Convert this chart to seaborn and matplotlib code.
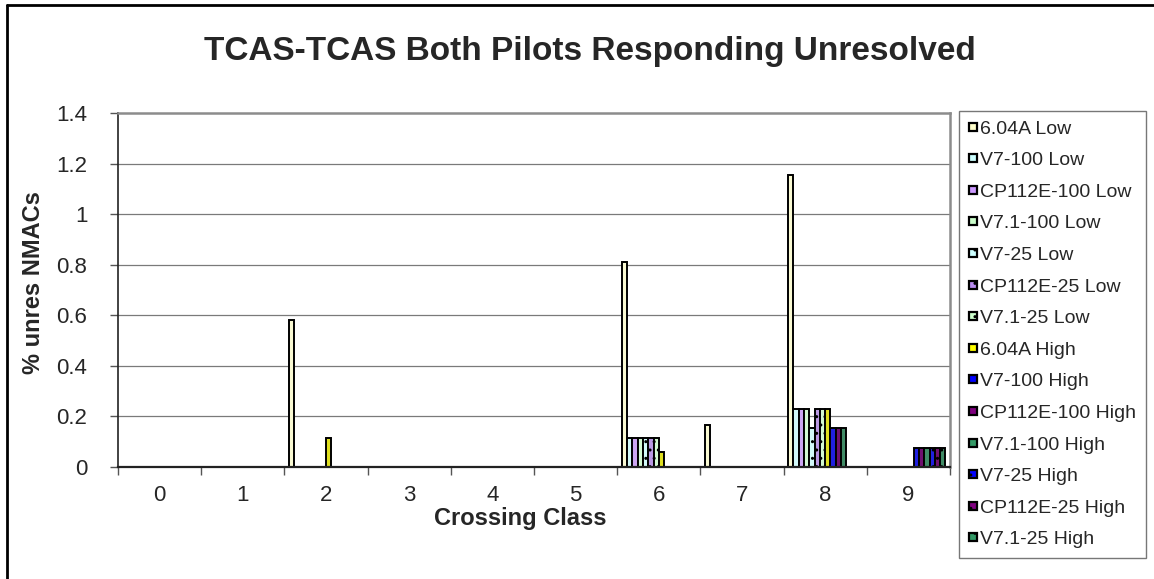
import matplotlib
matplotlib.use("Agg")
import matplotlib.pyplot as plt
import numpy as np
import pandas as pd
import seaborn as sns
from matplotlib.patches import Patch
from matplotlib.lines import Line2D


CLASSES = ["0", "1", "2", "3", "4", "5", "6", "7", "8", "9"]
SERIES = [
    "6.04A Low", "V7-100 Low", "CP112E-100 Low", "V7.1-100 Low",
    "V7-25 Low", "CP112E-25 Low", "V7.1-25 Low", "6.04A High",
    "V7-100 High", "CP112E-100 High", "V7.1-100 High",
    "V7-25 High", "CP112E-25 High", "V7.1-25 High",
]

# % unresolved NMACs per crossing class 0..9
low_604a = [0, 0, 0.58, 0, 0, 0, 0.81, 0.165, 1.155, 0]
low_v7_100 = [0, 0, 0, 0, 0, 0, 0.115, 0, 0.23, 0]
low_cp_100 = [0, 0, 0, 0, 0, 0, 0.115, 0, 0.23, 0]
low_v71_100 = [0, 0, 0, 0, 0, 0, 0.115, 0, 0.23, 0]
low_v7_25 = [0, 0, 0, 0, 0, 0, 0.115, 0, 0.155, 0]
low_cp_25 = [0, 0, 0, 0, 0, 0, 0.115, 0, 0.23, 0]
low_v71_25 = [0, 0, 0, 0, 0, 0, 0.115, 0, 0.23, 0]
high_604a = [0, 0, 0.115, 0, 0, 0, 0.058, 0, 0.23, 0]
high_v7_100 = [0, 0, 0, 0, 0, 0, 0, 0, 0.155, 0.077]
high_cp_100 = [0, 0, 0, 0, 0, 0, 0, 0, 0.155, 0.077]
high_v71_100 = [0, 0, 0, 0, 0, 0, 0, 0, 0.155, 0.077]
high_v7_25 = [0, 0, 0, 0, 0, 0, 0, 0, 0, 0.077]
high_cp_25 = [0, 0, 0, 0, 0, 0, 0, 0, 0, 0.077]
high_v71_25 = [0, 0, 0, 0, 0, 0, 0, 0, 0, 0.077]

VALUES = [
    low_604a, low_v7_100, low_cp_100, low_v71_100, low_v7_25, low_cp_25,
    low_v71_25, high_604a, high_v7_100, high_cp_100, high_v71_100,
    high_v7_25, high_cp_25, high_v71_25,
]

COLORS = [
    "#FFFFCC", "#CCFFFF", "#CC99FF", "#CCFFCC", "#CCFFFF", "#B98CF0",
    "#CCFFCC", "#FFFF00", "#0000FF", "#800080", "#339966",
    "#0000FF", "#800080", "#339966",
]
HATCHES = ["", "", "", "", "..", "..", "..", "", "", "", "", "..", "..", ".."]

Y_TICKS = [0, 0.2, 0.4, 0.6, 0.8, 1.0, 1.2, 1.4]

W, H = 1154, 579
BAR_GROUP = 0.89


def px_x(x):
    return x / W


def px_y(y):
    return 1 - y / H


def build_frame():
    rows = []
    for name, vals in zip(SERIES, VALUES):
        for cls, v in zip(CLASSES, vals):
            rows.append({"cls": cls, "series": name, "value": v})
    return pd.DataFrame(rows)


sns.set_style("white")
plt.rcParams["font.family"] = ["Liberation Sans", "DejaVu Sans"]
plt.rcParams["hatch.linewidth"] = 1.0

fig = plt.figure(figsize=(W / 100, H / 100), dpi=100)
ax = fig.add_axes([px_x(118), px_y(467), px_x(950 - 118), (467 - 113) / H])

df = build_frame()
sns.barplot(
    data=df, x="cls", y="value", hue="series", order=CLASSES,
    hue_order=SERIES, palette=dict(zip(SERIES, COLORS)), width=BAR_GROUP,
    gap=0, errorbar=None, edgecolor="black", linewidth=1.4, legend=False,
    ax=ax, zorder=3,
)

# hatch patterned series, hide empty bars
bw = BAR_GROUP / len(SERIES)
for p in ax.patches:
    cx = p.get_x() + p.get_width() / 2
    cat = round(cx)
    idx = int(round((cx - cat + BAR_GROUP / 2 - bw / 2) / bw))
    if p.get_height() <= 0:
        p.set_visible(False)
        continue
    if 0 <= idx < len(HATCHES) and HATCHES[idx]:
        p.set_hatch(HATCHES[idx])

ax.set_xlim(-0.5, 9.5)
ax.set_ylim(0, 1.4)
ax.set_yticks(Y_TICKS)
ax.set_yticklabels([f"{v:g}" for v in Y_TICKS])
ax.set_xticks(range(len(CLASSES)))
ax.set_xticklabels(CLASSES)
ax.set_xticks(np.arange(-0.5, len(CLASSES), 1), minor=True)
ax.tick_params(axis="x", which="major", length=0, pad=13, labelsize=16)
ax.tick_params(axis="x", which="minor", length=6, width=1, color="#555555",
               direction="out", bottom=True)
ax.tick_params(axis="y", which="major", length=6, width=1, color="#555555",
               direction="out", left=True, pad=16, labelsize=16)
ax.set_xlabel("")
ax.set_ylabel("")

for v in Y_TICKS[1:-1]:
    ax.axhline(v, color="#7a7a7a", linewidth=0.9, zorder=1)

ax.spines["left"].set_color("#222222")
ax.spines["left"].set_linewidth(1.2)
ax.spines["bottom"].set_color("#222222")
ax.spines["bottom"].set_linewidth(1.6)
ax.spines["bottom"].set_zorder(4)
for side in ("top", "right"):
    ax.spines[side].set_color("#8c8c8c")
    ax.spines[side].set_linewidth(1.8)

fig.text(px_x(590), px_y(60), "TCAS-TCAS Both Pilots Responding Unresolved",
         ha="center", va="baseline", fontsize=24, fontweight="bold")
fig.text(px_x(520), px_y(518), "Crossing Class", ha="center", va="center",
         fontsize=17, fontweight="bold")
fig.text(px_x(34), px_y(283), "% unres NMACs", ha="center", va="center",
         rotation=90, fontsize=17, fontweight="bold")

handles = [
    Patch(facecolor=c, edgecolor="black", hatch=h, linewidth=1.6, label=s)
    for s, c, h in zip(SERIES, COLORS, HATCHES)
]
leg = fig.legend(
    handles=handles, loc="upper left",
    bbox_to_anchor=(px_x(959), px_y(111)), bbox_transform=fig.transFigure,
    borderaxespad=0, fontsize=14, frameon=True, fancybox=False,
    handlelength=0.42, handleheight=0.26, handletextpad=0.15,
    labelspacing=0.75, borderpad=0.5,
)
leg.get_frame().set_edgecolor("#555555")
leg.get_frame().set_linewidth(1.0)

# chart area border (left and top edges visible)
fig.add_artist(Line2D([px_x(6.5), px_x(6.5)], [0, px_y(5)], color="black",
                      linewidth=2, transform=fig.transFigure))
fig.add_artist(Line2D([px_x(6.5), 1], [px_y(5), px_y(5)], color="black",
                      linewidth=2, transform=fig.transFigure))

fig.savefig("out.png", dpi=100)
